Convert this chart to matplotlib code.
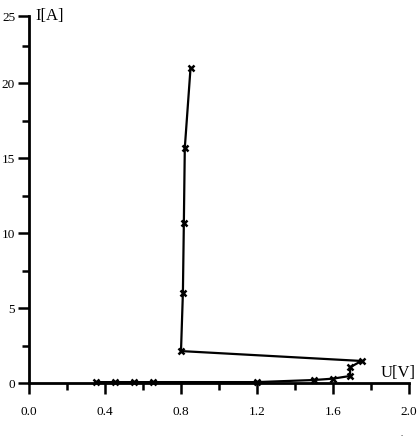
import numpy as np
import matplotlib
matplotlib.use('Agg')
import matplotlib.pyplot as plt
from matplotlib.ticker import MultipleLocator

plt.rcParams['font.family'] = 'Liberation Serif'

# measured points, in the order they are connected
U = [0.35, 0.45, 0.55, 0.65, 1.20, 1.50, 1.60, 1.69, 1.69, 1.75, 0.80, 0.81, 0.815, 0.82, 0.85]
I = [0.08, 0.08, 0.08, 0.08, 0.08, 0.22, 0.31, 0.49, 1.07, 1.49, 2.15, 6.04, 10.7, 15.7, 21.0]

xticks = [0.0, 0.4, 0.8, 1.2, 1.6, 2.0]
xlabels = ['0.0', '0.4', '0.8', '1.2', '1.6', '2.0']
yticks = [0, 5, 10, 15, 20, 24.5]
ylabels = ['0', '5', '10', '15', '20', '25']

fig = plt.figure(figsize=(4.2, 4.43), dpi=100)
ax = fig.add_axes([29/420, 59.7/443, 380/420, 367.3/443])

ax.plot(U, I, color='black', lw=1.6, marker='x', ms=4.5, mew=1.8, clip_on=False)

ax.set_xlim(0, 2.0)
ax.set_ylim(0, 24.5)
ax.set_xticks(xticks)
ax.set_xticklabels(xlabels)
ax.set_yticks(yticks)
ax.set_yticklabels(ylabels)
ax.xaxis.set_minor_locator(MultipleLocator(0.2))
ax.yaxis.set_minor_locator(MultipleLocator(2.5))

for s in ['top', 'right']:
    ax.spines[s].set_visible(False)
for s in ['left', 'bottom']:
    ax.spines[s].set_linewidth(2)

ax.tick_params(which='major', direction='out', length=8, width=1.8, labelsize=9.5, pad=8)
ax.tick_params(which='minor', direction='out', length=5, width=1.8)
ax.tick_params(axis='y', which='major', pad=2)

ax.text(0.018, 1.0, 'I[A]', transform=ax.transAxes, fontsize=12, va='center', ha='left')
ax.text(0.925, 0.005, 'U[V]', transform=ax.transAxes, fontsize=12, va='bottom', ha='left')
fig.text(402/420, 1 - 434/443, '.', fontsize=6, ha='center', va='center')

fig.savefig('out.png', dpi=100)
